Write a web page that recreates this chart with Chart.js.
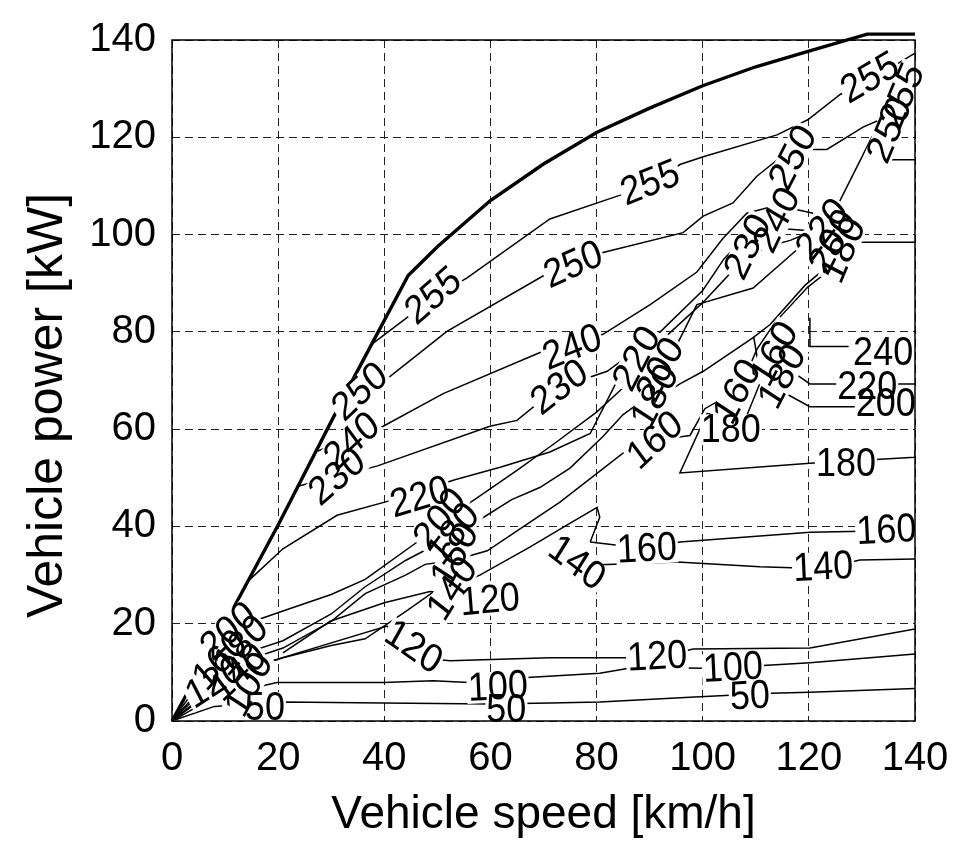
<!DOCTYPE html>
<html>
<head>
<meta charset="utf-8">
<script src="https://cdn.jsdelivr.net/npm/chart.js@4.4.1/dist/chart.umd.min.js"></script>
<style>
  html, body { margin: 0; padding: 0; background: #fff; }
</style>
</head>
<body>
<canvas id="effMap" width="963" height="841"></canvas>
<script>
const speedTicks = [0, 20, 40, 60, 80, 100, 120, 140];
const powerTicks = [0, 20, 40, 60, 80, 100, 120, 140];

// max power envelope, [speed km/h, power kW]
const maxPower = [[0,0],[10,20],[20,40.3],[33.5,69],[44.5,91.6],[50,97.5],[60,107],[70,114.5],[80,121],[90,126],[100,130.6],[110,134.5],[120,137.7],[131,141.2],[140,141.2]];

// contour lines of the efficiency map
const c255 = [[37.8,77.6],[49.2,87.0],[55.6,91.1],[71.2,103.2],[83.9,107.9],[90.1,109.9],[95.7,114.4],[100.1,116.0],[114.0,120.5],[119.8,123.6],[125.9,128.8],[131.5,131.7],[140,137.3]];
const c255b = [[133.4,123.6],[135.5,127.5],[137.5,131.5],[140,135]];
const c255box = [[134.7,120.7],[134.7,115.4],[140,115.4]];
const c250 = [[31.7,65.0],[39.8,69.7],[51.8,80.1],[71.2,92.3],[81.2,96.3],[96.3,100.4],[100.1,103.8],[105.7,106.5],[110.2,112.0],[116.5,117.5],[123.4,117.5],[130.2,122.1],[133.4,123.6]];
const c240 = [[27.5,55.5],[39.8,60.6],[51.1,67.3],[69.9,76.0],[81.2,79.5],[90.1,85.6],[98.9,92.3],[103.8,99.2],[108.3,104.4],[114,106],[120.8,104.4]];
const c240b = [[120.2,82.9],[120.2,77],[127.5,77]];
const c230 = [[23.5,48.2],[38.6,52.4],[59.9,60.6],[65.0,61.8],[68.8,65.2],[76.9,70],[82.0,71.9],[92.0,80.0],[100,88.5],[104,95],[108,99.5],[112.7,101.4],[120.2,100.8],[125,99.5],[129.6,98.4],[140,98.4]];
const c220 = [[14.2,28.6],[20.9,35.4],[31.1,42.3],[41.1,45.3],[53.3,49.6],[62,52.2],[71.2,55.3],[78.8,59.1],[82.5,67],[86,74.5],[92,78],[100,86],[106,93],[112,97.5],[116.5,98.8],[122.1,101.4],[124.9,104.9],[131.9,120.1],[134.4,122.5]];
const c220b = [[116,72.5],[120.2,69.3],[140,69.3]];
const c200 = [[0.5,0.8],[6,9],[10.6,17.5],[14,20],[20.9,22.6],[30,26],[36.4,29.1],[46.2,36.8],[50.5,40.8],[57,45.5],[65,51.5],[72,57],[80,63.5],[85,68.5],[91.5,72.5],[95,77],[98.9,85.6],[109.5,89.0],[116.5,95.7],[120.2,99.2],[124,97.5]];
const c200b = [[114.5,68],[120.2,64.6],[140,64.6]];
const c180 = [[0.5,0.7],[8,9.5],[14,14],[20.9,16.5],[30,22],[36.4,27.6],[44,33],[51,37],[56.7,40.5],[64,45.5],[69.3,48],[75,52],[81.2,58.5],[85,63],[89.1,66.2],[92,66.7],[95.7,69.3],[100.1,71.9],[109.5,78.8],[112.7,81.5],[119.3,89.6],[124.9,94.7]];
const c180b = [[109.6,79],[111,70],[108,62],[100.8,63.2],[95.7,51.0],[120.2,53.0],[140,54.2],[140,55.5]];
const c160 = [[0.5,0.6],[8,8.5],[14,12.5],[20.9,15.0],[30,20.5],[36.4,26.2],[44,30],[47.7,32.2],[53,33],[59.4,35],[73.1,45],[85.7,55.7],[91,57.7],[97.6,58.7],[100.4,64.2],[107,68.3],[110.2,76.4],[113.6,81.9],[119.8,89.2],[125.5,94.1]];
const c160b = [[78.8,36.8],[89.5,35.4],[95.7,36.8],[120.2,38.8],[140,39.2]];
const c140 = [[0.5,0.5],[8,7],[14,10.5],[20.9,13.0],[30,15.5],[36.4,16.9],[44,22.5],[49.2,26.5],[53.3,27.8],[58,30],[67.5,35.8],[74,40],[80.1,43.9],[80.6,41.9],[78.8,36.8]];
const c140b = [[73.5,38],[76.3,32.9],[80.6,32.1],[95.2,32.7],[110.8,31.7],[122.7,31.3],[129.6,33.1],[140,33.3]];
const c120b = [[20.9,14],[29.8,20.5],[40,24.3],[48.6,26.6],[56,25.6]];
const c120 = [[0.5,0.4],[8,6.5],[17.1,11.8],[40.5,19.5],[46.7,13.0],[52.4,12.4],[71.2,13.0],[80.6,13.0],[91.4,13.0],[98.2,14.8],[120.2,15.0],[140,18.9]];
const c100 = [[0.5,0.3],[8,5],[19.8,7.9],[39.8,7.9],[49.2,8.3],[59.9,7.7],[66.1,8.9],[80.6,9.8],[86.9,11.0],[105.7,10.8],[111.4,11.4],[120.2,12.0],[140,13.8]];
const c50 = [[0.5,0.2],[8,3],[20.9,3.9],[39.8,3.7],[60,3.5],[71.2,3.7],[80.6,3.9],[97.6,4.9],[112.7,5.7],[120.2,5.9],[140,6.7]];

const contourLines = [c255, c255b, c255box, c250, c240, c240b, c230, c220, c220b, c200, c200b,
  c180, c180b, c160, c160b, c140, c140b, c120b, c120, c100, c50];

// contour labels
const labelText  = ['255','255','255','255','250','250','250','250','240','240','240','240','230','230','230',
  '220','220','220','220','200','200','200','200','200','180','180','180','180','180','180','180',
  '160','160','160','160','160','160','160','140','140','140','140','120','120','120','120',
  '100','100','100','50','50','50'];
const labelSpeed = [49.2,90.1,131.5,137.6,35.4,75.6,117,135.2,33.9,75.4,114,134,31.1,73,108.5,
  46.7,87.6,122.5,131,10.6,50.5,92,124.5,134.5,13,53,91,105.3,115,126.5,127,
  9,53.3,91,106.5,113.5,89.5,134.6,12.5,52.8,76.3,122.7,8,59.9,45.5,91.4,
  14.5,61.4,105.7,17.5,63,108.9];
const labelPower = [87.4,110.6,132.2,128.5,67.7,93.8,115.8,121.5,57.5,76.8,103,75.8,50.2,68.6,97.5,
  46,74.5,101,68.8,18.5,41.5,72.2,98.5,65.3,15.5,38.5,66.7,59.9,70.8,96.8,52.8,
  12.5,34.1,57.7,67.7,75.5,35.4,39.2,10,27.2,32.5,31.6,8,24.8,15.2,13.2,
  7.5,7,10.9,2.8,2.4,5.1];
const labelAngle = [-38,-20,-28,-65,-40,-22,-60,-65,-40,-20,-62,0,-38,-35,-62,
  -15,-60,-50,0,-40,-50,-60,-60,0,-45,-50,-60,0,-60,-65,0,
  -45,-60,-40,-60,-60,-3,-3,-40,-55,35,-3,-30,-5,32,-3,
  -60,-3,-3,0,0,-3];

const fontFamily = '"Liberation Sans", Arial, Helvetica, sans-serif';

const datasets = [{
  data: maxPower.map(p => ({x: p[0], y: p[1]})),
  showLine: true, borderColor: '#000', borderWidth: 3.4, pointRadius: 0, clip: false
}];
contourLines.forEach(function(line) {
  datasets.push({
    data: line.map(p => ({x: p[0], y: p[1]})),
    showLine: true, borderColor: '#000', borderWidth: 1.5, pointRadius: 0
  });
});

// draws the inline contour labels (white gap first, then the text)
const contourLabels = {
  id: 'contourLabels',
  afterDatasetsDraw(chart) {
    const ctx = chart.ctx;
    const xs = chart.scales.x, ys = chart.scales.y;
    const size = 36;
    ctx.save();
    ctx.font = size + 'px ' + fontFamily;
    for (let pass = 0; pass < 2; pass++) {
      for (let i = 0; i < labelText.length; i++) {
        const px = xs.getPixelForValue(labelSpeed[i]);
        const py = ys.getPixelForValue(labelPower[i]);
        ctx.save();
        ctx.translate(px, py);
        ctx.scale(1, 1.12);
        ctx.rotate(labelAngle[i] * Math.PI / 180);
        const w = ctx.measureText(labelText[i]).width;
        if (pass === 0) {
          ctx.fillStyle = '#fff';
          ctx.fillRect(-w / 2 - 1, -size * 0.38, w + 2, size * 0.76);
        } else {
          ctx.fillStyle = '#000';
          ctx.textAlign = 'center';
          ctx.textBaseline = 'middle';
          ctx.fillText(labelText[i], 0, 1);
        }
        ctx.restore();
      }
    }
    ctx.restore();
  }
};

const frame = {
  id: 'frame',
  afterDraw(chart) {
    const a = chart.chartArea, ctx = chart.ctx;
    ctx.save();
    ctx.strokeStyle = '#000';
    ctx.lineWidth = 1.5;
    ctx.strokeRect(a.left, a.top, a.right - a.left, a.bottom - a.top);
    ctx.restore();
  }
};

new Chart(document.getElementById('effMap').getContext('2d'), {
  type: 'scatter',
  data: { datasets: datasets },
  plugins: [contourLabels, frame],
  options: {
    responsive: false,
    animation: false,
    layout: { padding: { top: 32, right: 48, left: 0, bottom: 0 } },
    plugins: { legend: { display: false }, tooltip: { enabled: false } },
    scales: {
      x: {
        type: 'linear', min: 0, max: 140,
        afterBuildTicks: s => { s.ticks = speedTicks.map(v => ({ value: v })); },
        afterFit: s => { s.height = 120; },
        grid: { color: '#222', lineWidth: 1, drawTicks: false },
        border: { display: false, dash: [8, 5] },
        ticks: { color: '#000', padding: 14, maxRotation: 0, font: { family: fontFamily, size: 40 } },
        title: { display: true, text: 'Vehicle speed [km/h]', color: '#000',
          font: { family: fontFamily, size: 46, lineHeight: 1 }, padding: { top: 0, bottom: 3 } }
      },
      y: {
        type: 'linear', min: 0, max: 140,
        afterBuildTicks: s => { s.ticks = powerTicks.map(v => ({ value: v })); },
        afterFit: s => { s.width = 172; },
        grid: { color: '#222', lineWidth: 1, drawTicks: false },
        border: { display: false, dash: [8, 5] },
        ticks: { color: '#000', padding: 16, font: { family: fontFamily, size: 40 } },
        title: { display: true, text: 'Vehicle power [kW]\u2002\u2002', color: '#000',
          font: { family: fontFamily, size: 50, lineHeight: 1 }, padding: { top: 23, bottom: 0 } }
      }
    }
  }
});
</script>
</body>
</html>
